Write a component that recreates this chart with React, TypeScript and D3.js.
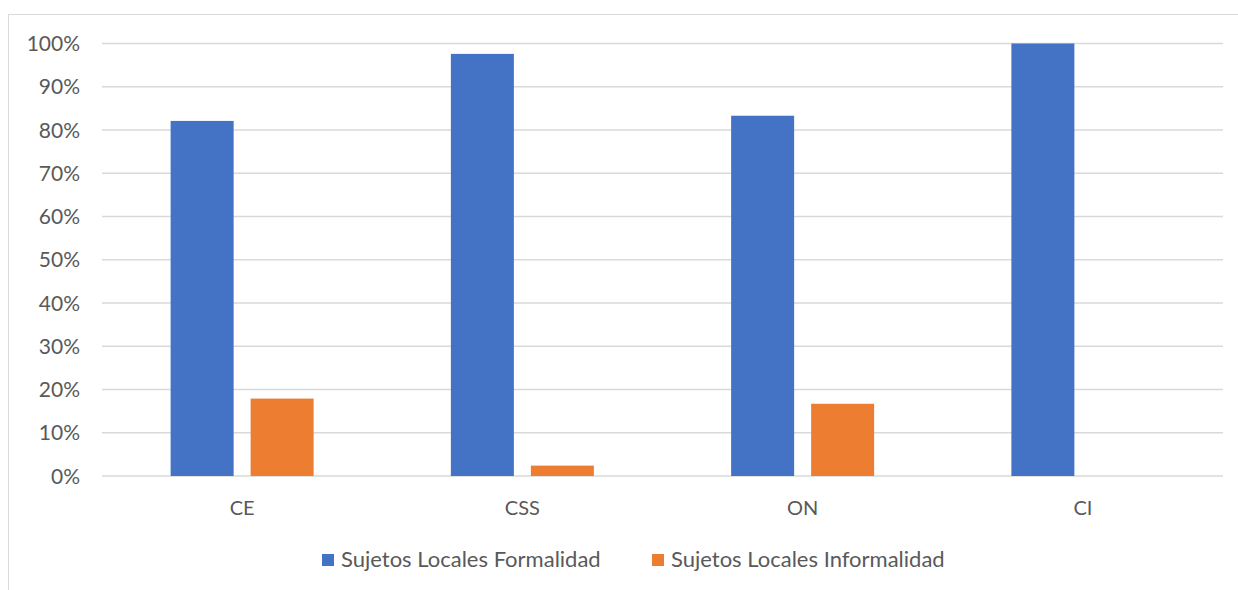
import React from "react";
import * as d3 from "d3";

const categories = ["CE", "CSS", "ON", "CI"];
const seriesNames = ["Sujetos Locales Formalidad", "Sujetos Locales Informalidad"];
const formalidad = [0.821, 0.976, 0.833, 1.0];
const informalidad = [0.179, 0.024, 0.167, 0.0];
const yTicks = [0, 0.1, 0.2, 0.3, 0.4, 0.5, 0.6, 0.7, 0.8, 0.9, 1.0];
const colors = ["#4472C4", "#ED7D31"];

const W = 1238;
const H = 590;
const FONT = "Lato, 'Open Sans', sans-serif";

export default function App() {
  const x = d3.scaleBand<string>().domain(categories).range([102, 1223]).padding(0);
  const y = d3.scaleLinear().domain([0, 1]).range([476, 43.5]);
  const barW = 63;
  const gap = 17;
  const series = [formalidad, informalidad];
  const fmt = d3.format(".0%");
  const legendX = [322, 652];

  return (
    <svg width={W} height={H} style={{ position: "absolute", left: 0, top: 0, background: "#fff" }} fontFamily={FONT}>
      <rect x={8.5} y={14.5} width={W} height={H} fill="#fff" stroke="#d9d9d9" strokeWidth={1} />
      {yTicks.map((t) => (
        <g key={t}>
          <line x1={102} x2={1223} y1={y(t)} y2={y(t)} stroke="#d9d9d9" strokeWidth={1.3} />
          <text x={80} y={y(t)} dy="0.36em" textAnchor="end" fontSize={21} fill="#595959">
            {fmt(t)}
          </text>
        </g>
      ))}
      {categories.map((c, i) => {
        const cx = (x(c) as number) + x.bandwidth() / 2;
        return (
          <g key={c}>
            {series.map((vals, s) => {
              const left = cx - barW - gap / 2 + s * (barW + gap);
              return (
                <rect
                  key={s}
                  x={left}
                  y={y(vals[i])}
                  width={barW}
                  height={y(0) - y(vals[i])}
                  fill={colors[s]}
                />
              );
            })}
            <text x={cx} y={515} textAnchor="middle" fontSize={20} fill="#595959">
              {c}
            </text>
          </g>
        );
      })}
      {seriesNames.map((n, s) => (
        <g key={n}>
          <rect x={legendX[s]} y={554} width={12} height={12} fill={colors[s]} />
          <text x={legendX[s] + 19} y={567} fontSize={22} fill="#595959">
            {n}
          </text>
        </g>
      ))}
    </svg>
  );
}
